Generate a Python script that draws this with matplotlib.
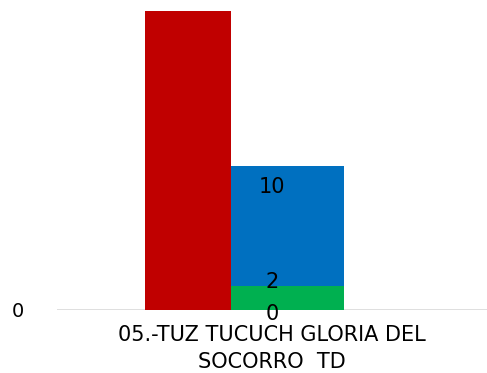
import matplotlib

matplotlib.use("Agg")
import matplotlib.pyplot as plt

CATEGORIES = ["05.-TUZ TUCUCH GLORIA DEL\nSOCORRO  TD"]
TOTAL = [25]
GREEN_VALUES = [2]
BLUE_VALUES = [10]
ZERO_VALUES = [0]

RED = "#C00000"
BLUE = "#0070C0"
GREEN = "#00B050"

plt.rcParams["font.family"] = ["DejaVu Sans"]

fig = plt.figure(figsize=(4.87, 3.73), dpi=100)
ax = fig.add_axes([0.117, 0.169, 0.883, 0.802])

x = list(range(len(CATEGORIES)))

# stacked series on the category centre
ax.bar(x, GREEN_VALUES, width=0.335, color=GREEN, zorder=2)
ax.bar(x, BLUE_VALUES, width=0.335, bottom=GREEN_VALUES, color=BLUE, zorder=2)
ax.bar(x, ZERO_VALUES, width=0.335, color="none", zorder=2)

# total bar shifted to the left, drawn over the stack
red_x = [i - 0.195 for i in x]
ax.bar(red_x, TOTAL, width=0.2, color=RED, zorder=3)

for i in x:
    ax.text(i, GREEN_VALUES[i] + BLUE_VALUES[i] - 1.7, str(BLUE_VALUES[i]),
            ha="center", va="center", fontsize=15, zorder=4)
    ax.text(i, GREEN_VALUES[i] + 0.3, str(GREEN_VALUES[i]),
            ha="center", va="center", fontsize=15, zorder=4)
    ax.text(i, ZERO_VALUES[i] - 0.3, str(ZERO_VALUES[i]),
            ha="center", va="center", fontsize=15, zorder=4)

ax.set_xlim(-0.5, 0.5)
ax.set_ylim(0, 25)
ax.set_yticks([0])
ax.set_yticklabels(["0"], fontsize=14)
ax.set_xticks(x)
ax.set_xticklabels(CATEGORIES, fontsize=15, linespacing=1.45)
ax.tick_params(axis="both", length=0)
ax.tick_params(axis="y", pad=24)
ax.tick_params(axis="x", pad=11)
ax.yaxis.grid(True, color="#d9d9d9", linewidth=1.2, zorder=0)
for side in ["top", "right", "left", "bottom"]:
    ax.spines[side].set_visible(False)

fig.savefig("out.png", dpi=100)
